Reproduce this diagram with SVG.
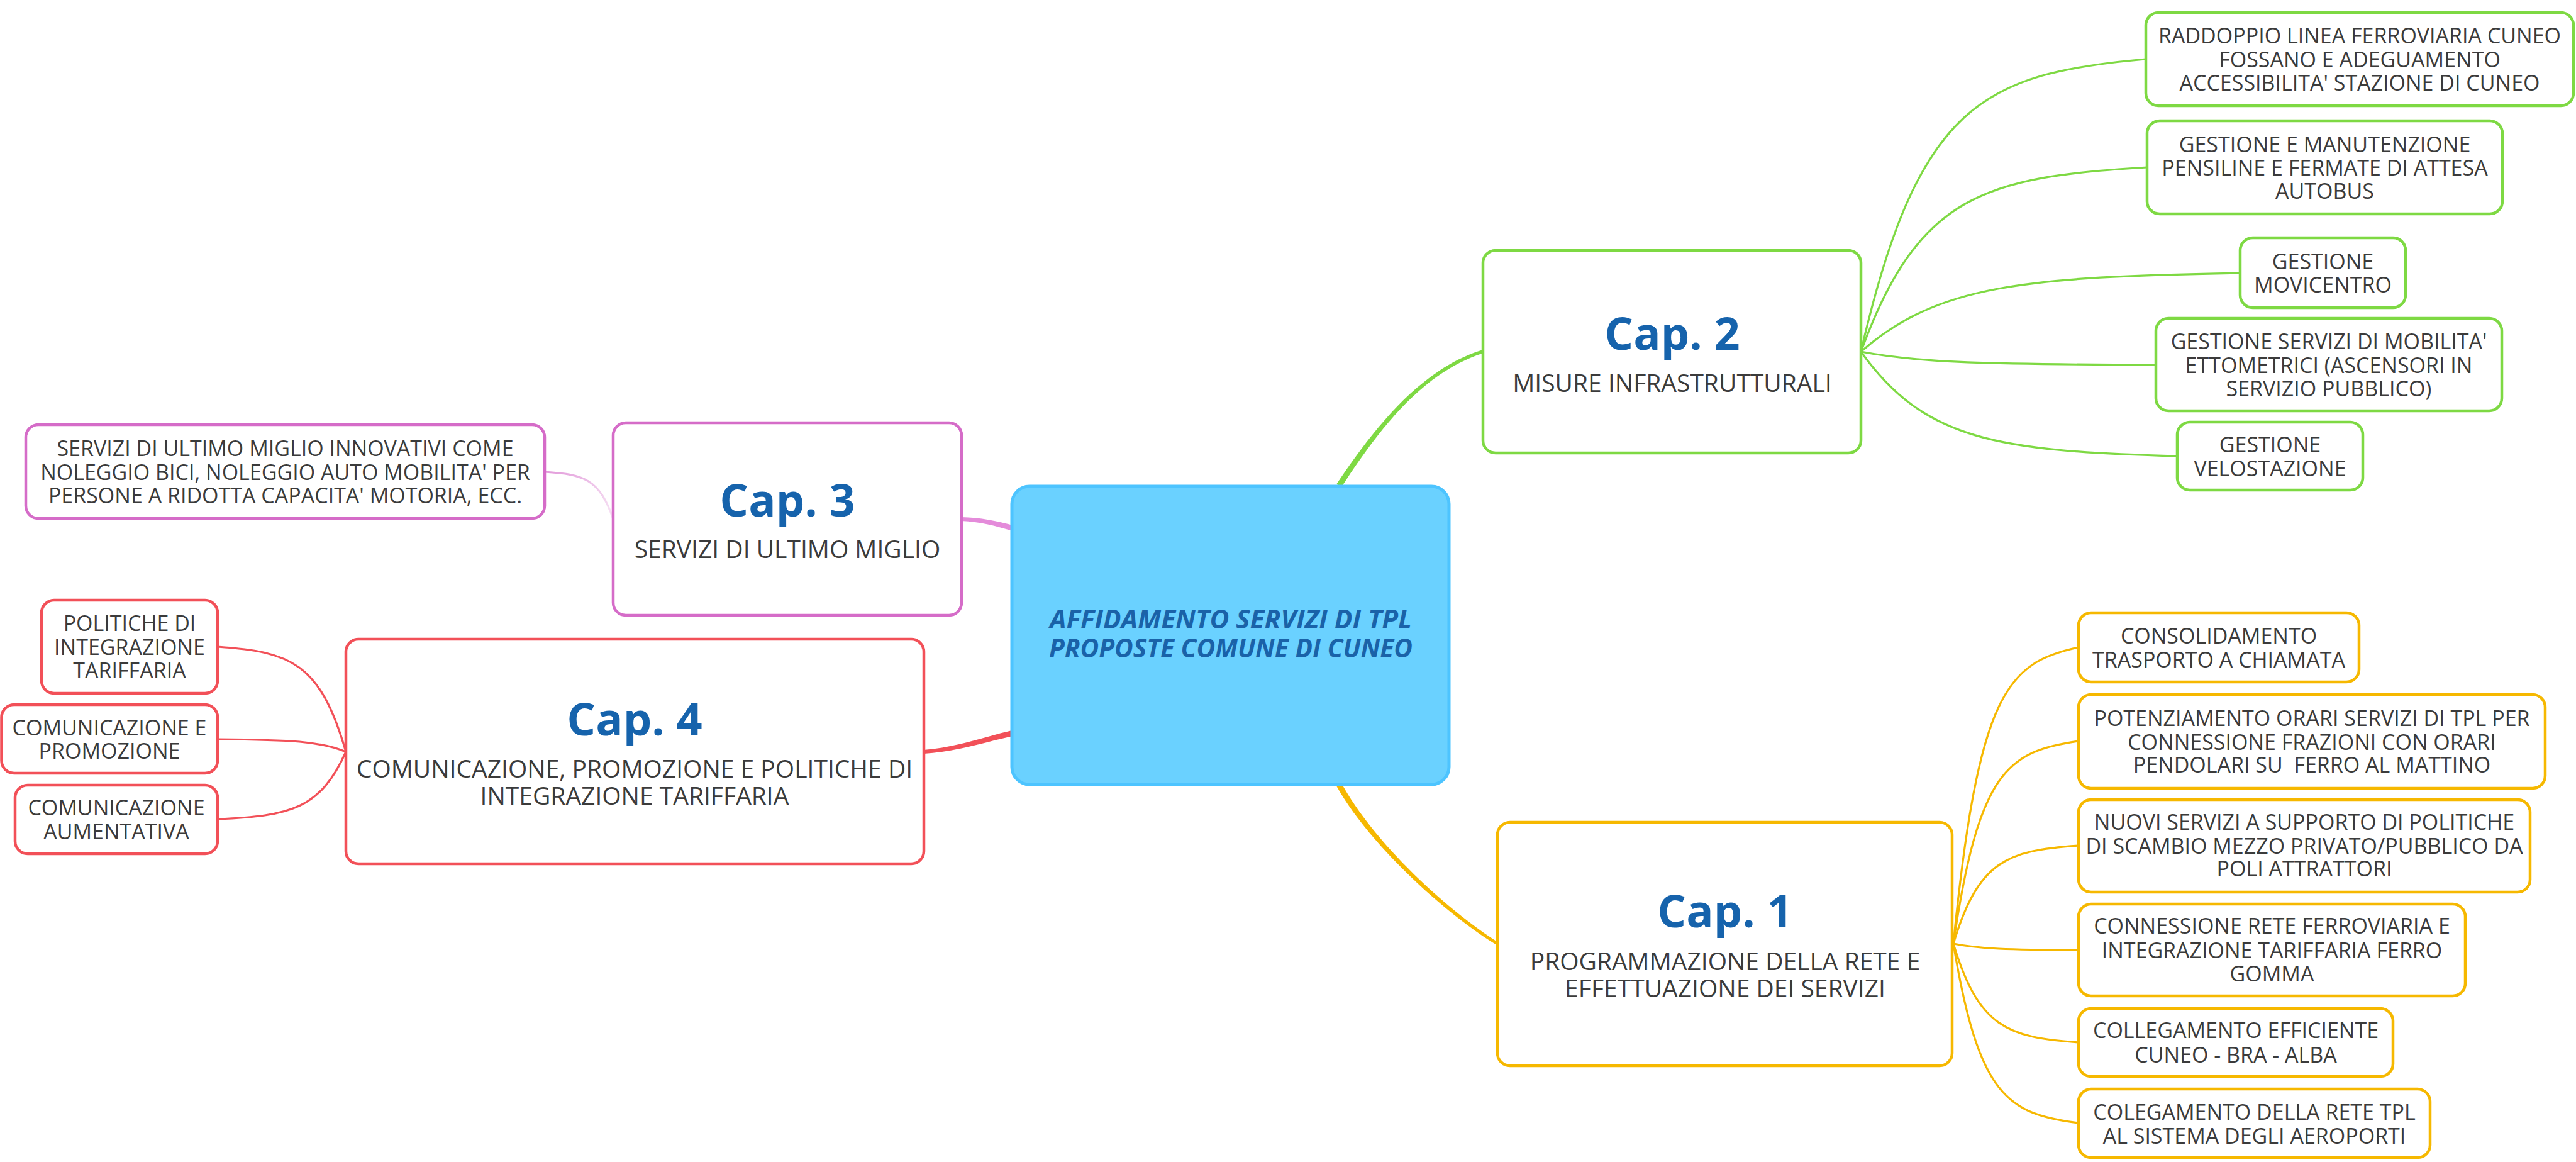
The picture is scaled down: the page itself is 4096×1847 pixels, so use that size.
<svg xmlns="http://www.w3.org/2000/svg" width="4096" height="1847" viewBox="0 0 4096 1847">
<defs>
<style>
.bx{fill:#fff;stroke-width:4.5}
.g{stroke:#7ED943}.y{stroke:#F6B800}.p{stroke:#D56CC8}.r{stroke:#F25058}
.cn{fill:none;stroke-width:3.2;stroke-linecap:round}
.t{font-family:"Open Sans","Liberation Sans",sans-serif;font-size:34px;fill:#3b3b3b;text-anchor:middle}
.s{font-size:39px}
.h{font-family:"Open Sans","Liberation Sans",sans-serif;font-size:72px;font-weight:700;fill:#1663AC;text-anchor:middle}
.c{font-family:"Open Sans","Liberation Sans",sans-serif;font-size:42px;font-weight:700;font-style:italic;fill:#1A62A8;text-anchor:middle}
</style>
<linearGradient id="pg" gradientUnits="userSpaceOnUse" x1="866" y1="750" x2="975" y2="825">
<stop offset="0" stop-color="#E29ADA"/><stop offset="1" stop-color="#F7E4F5"/>
</linearGradient>
</defs>
<rect width="4096" height="1847" fill="#fff"/>
<g id="connectors">
<path fill="#7ED943" d="M2132.8 774.5 C2193.2 682.1 2260.9 592.9 2357.8 561.4 L2356.2 556.6 C2259.1 587.1 2186.8 677.9 2125.2 769.5 Z"/>
<path fill="#F6B800" d="M2133 1244.8 C2183.3 1338.2 2301.6 1447.5 2382.3 1497.9 L2379.7 1502.1 C2298.4 1452.6 2176.7 1341.8 2125 1249.2 Z"/>
<path fill="#E48BDA" d="M1613.3 835.7 C1586.1 828.2 1558.1 822.5 1529.1 822 L1528.9 828 C1557.9 829.5 1583.9 835.8 1610.7 844.3 Z"/>
<path fill="#F25058" d="M1612.9 1169.4 C1570.8 1177.9 1520.2 1195.5 1469.2 1198 L1468.8 1192 C1519.8 1188.5 1569.2 1170.1 1611.1 1160.6 Z"/>
<g class="cn g">
<path d="M2959 559 C3050 164 3154 117 3412 94"/>
<path d="M2959 559 C3050 310 3155 281 3414 266"/>
<path d="M2959 559 C3080 453 3218 440 3562 434"/>
<path d="M2959 559 C3053 577 3161 579 3428 580"/>
<path d="M2959 559 C3060 700 3175 717 3462 725"/>
</g>
<g class="cn y">
<path d="M3106 1500 C3146 1100 3192 1053 3305 1029"/>
<path d="M3106 1500 C3146 1226 3192 1194 3305 1178"/>
<path d="M3106 1500 C3146 1367 3192 1352 3305 1344"/>
<path d="M3106 1500 C3146 1508 3192 1510 3305 1510"/>
<path d="M3106 1500 C3146 1633 3192 1649 3305 1657"/>
<path d="M3106 1500 C3146 1742 3192 1771 3305 1785"/>
</g>
<g class="cn r">
<path d="M550 1195 C509 1053 462 1036 346 1028"/>
<path d="M550 1195 C509 1178 462 1176 346 1175"/>
<path d="M550 1195 C509 1286 462 1297 346 1302"/>
</g>
<path class="cn" stroke="url(#pg)" d="M975 825 C953 761 928 754 866 750"/>
</g>
<g id="root">
<rect x="1609" y="773" width="695" height="474" rx="28" fill="#6AD1FF" stroke="#4DC4FF" stroke-width="5"/>
<text class="c"><tspan x="1957" y="999" textLength="576" lengthAdjust="spacingAndGlyphs">AFFIDAMENTO SERVIZI DI TPL</tspan><tspan x="1957" y="1045" textLength="578" lengthAdjust="spacingAndGlyphs">PROPOSTE COMUNE DI CUNEO</tspan></text>
</g>
<g id="cap2">
<rect class="bx g" x="2358" y="398" width="601" height="322" rx="20"/>
<text class="h" x="2659" y="556">Cap. 2</text>
<text class="t s" x="2659" y="623">MISURE INFRASTRUTTURALI</text>
</g>
<g id="cap1">
<rect class="bx y" x="2381" y="1307" width="723" height="387" rx="20"/>
<text class="h" x="2743" y="1474">Cap. 1</text>
<text class="t s"><tspan x="2743" y="1542">PROGRAMMAZIONE DELLA RETE E</tspan><tspan x="2743" y="1585">EFFETTUAZIONE DEI SERVIZI</tspan></text>
</g>
<g id="cap3">
<rect class="bx p" x="975" y="672" width="554" height="306" rx="20"/>
<text class="h" x="1252" y="821">Cap. 3</text>
<text class="t s" x="1252" y="887">SERVIZI DI ULTIMO MIGLIO</text>
</g>
<g id="cap4">
<rect class="bx r" x="550" y="1016" width="919" height="357" rx="20"/>
<text class="h" x="1009" y="1169">Cap. 4</text>
<text class="t s"><tspan x="1009" y="1236">COMUNICAZIONE, PROMOZIONE E POLITICHE DI</tspan><tspan x="1009" y="1279">INTEGRAZIONE TARIFFARIA</tspan></text>
</g>
<g id="raddoppio">
<rect class="bx g" x="3412" y="20" width="680" height="148" rx="20"/>
<text class="t"><tspan x="3752" y="69">RADDOPPIO LINEA FERROVIARIA CUNEO</tspan><tspan x="3752" y="107">FOSSANO E ADEGUAMENTO</tspan><tspan x="3752" y="144">ACCESSIBILITA' STAZIONE DI CUNEO</tspan></text>
</g>
<g id="pensiline">
<rect class="bx g" x="3414" y="192" width="565" height="148" rx="20"/>
<text class="t"><tspan x="3696.5" y="242">GESTIONE E MANUTENZIONE</tspan><tspan x="3696.5" y="279">PENSILINE E FERMATE DI ATTESA</tspan><tspan x="3696.5" y="316">AUTOBUS</tspan></text>
</g>
<g id="movicentro">
<rect class="bx g" x="3562" y="378" width="263" height="111" rx="20"/>
<text class="t"><tspan x="3693.5" y="428">GESTIONE</tspan><tspan x="3693.5" y="465">MOVICENTRO</tspan></text>
</g>
<g id="ettometrici">
<rect class="bx g" x="3428" y="506" width="550" height="147" rx="20"/>
<text class="t"><tspan x="3703" y="555">GESTIONE SERVIZI DI MOBILITA'</tspan><tspan x="3703" y="593">ETTOMETRICI (ASCENSORI IN</tspan><tspan x="3703" y="630">SERVIZIO PUBBLICO)</tspan></text>
</g>
<g id="velostazione">
<rect class="bx g" x="3462" y="671" width="295" height="108" rx="20"/>
<text class="t"><tspan x="3609.5" y="719">GESTIONE</tspan><tspan x="3609.5" y="757">VELOSTAZIONE</tspan></text>
</g>
<g id="chiamata">
<rect class="bx y" x="3305" y="974" width="446" height="110" rx="20"/>
<text class="t"><tspan x="3528" y="1023">CONSOLIDAMENTO</tspan><tspan x="3528" y="1061">TRASPORTO A CHIAMATA</tspan></text>
</g>
<g id="potenziamento">
<rect class="bx y" x="3305" y="1104" width="742" height="149" rx="20"/>
<text class="t" xml:space="preserve"><tspan x="3676" y="1154">POTENZIAMENTO ORARI SERVIZI DI TPL PER</tspan><tspan x="3676" y="1192">CONNESSIONE FRAZIONI CON ORARI</tspan><tspan x="3676" y="1228">PENDOLARI SU  FERRO AL MATTINO</tspan></text>
</g>
<g id="nuovi">
<rect class="bx y" x="3305" y="1271" width="718" height="147" rx="20"/>
<text class="t"><tspan x="3664" y="1319">NUOVI SERVIZI A SUPPORTO DI POLITICHE</tspan><tspan x="3664" y="1357">DI SCAMBIO MEZZO PRIVATO/PUBBLICO DA</tspan><tspan x="3664" y="1393">POLI ATTRATTORI</tspan></text>
</g>
<g id="connessione">
<rect class="bx y" x="3305" y="1437" width="615" height="146" rx="20"/>
<text class="t"><tspan x="3612.5" y="1484">CONNESSIONE RETE FERROVIARIA E</tspan><tspan x="3612.5" y="1523">INTEGRAZIONE TARIFFARIA FERRO</tspan><tspan x="3612.5" y="1560">GOMMA</tspan></text>
</g>
<g id="collegamento">
<rect class="bx y" x="3305" y="1603" width="500" height="108" rx="20"/>
<text class="t"><tspan x="3555" y="1650">COLLEGAMENTO EFFICIENTE</tspan><tspan x="3555" y="1689">CUNEO - BRA - ALBA</tspan></text>
</g>
<g id="aeroporti">
<rect class="bx y" x="3305" y="1731" width="559" height="109" rx="20"/>
<text class="t"><tspan x="3584.5" y="1780">COLEGAMENTO DELLA RETE TPL</tspan><tspan x="3584.5" y="1818">AL SISTEMA DEGLI AEROPORTI</tspan></text>
</g>
<g id="ultimomiglio">
<rect class="bx p" x="41" y="675" width="825" height="149" rx="20"/>
<text class="t"><tspan x="453.5" y="725">SERVIZI DI ULTIMO MIGLIO INNOVATIVI COME</tspan><tspan x="453.5" y="763">NOLEGGIO BICI, NOLEGGIO AUTO MOBILITA' PER</tspan><tspan x="453.5" y="800">PERSONE A RIDOTTA CAPACITA' MOTORIA, ECC.</tspan></text>
</g>
<g id="politiche">
<rect class="bx r" x="66" y="954" width="280" height="148" rx="20"/>
<text class="t"><tspan x="206" y="1003">POLITICHE DI</tspan><tspan x="206" y="1041">INTEGRAZIONE</tspan><tspan x="206" y="1078">TARIFFARIA</tspan></text>
</g>
<g id="promozione">
<rect class="bx r" x="2.5" y="1120" width="343.5" height="109" rx="20"/>
<text class="t"><tspan x="174" y="1169">COMUNICAZIONE E</tspan><tspan x="174" y="1206">PROMOZIONE</tspan></text>
</g>
<g id="aumentativa">
<rect class="bx r" x="24" y="1248" width="322" height="109" rx="20"/>
<text class="t"><tspan x="185" y="1296">COMUNICAZIONE</tspan><tspan x="185" y="1334">AUMENTATIVA</tspan></text>
</g>
</svg>
